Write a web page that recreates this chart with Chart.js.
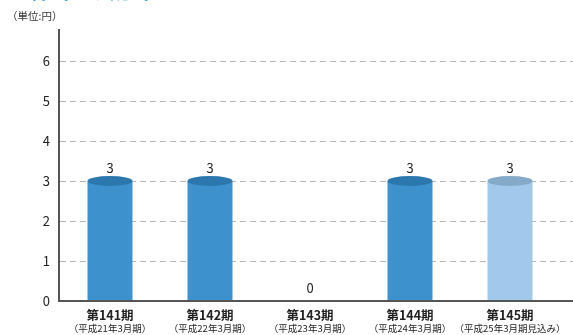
<!DOCTYPE html>
<html>
<head>
<meta charset="utf-8">
<script src="https://cdn.jsdelivr.net/npm/chart.js@4"></script>
<style>
  html, body { margin: 0; padding: 0; background: #fff; }
  #wrap { width: 573px; height: 335px; position: relative; }
</style>
</head>
<body>
<div id="wrap"><canvas id="dividend"></canvas></div>
<script>
const periods = ["第141期", "第142期", "第143期", "第144期", "第145期"]
const periodNotes = ["（平成21年3月期）", "（平成22年3月期）", "（平成23年3月期）", "（平成24年3月期）", "（平成25年3月期見込み）"]
const dividends = [3, 3, 0, 3, 3]
const yTicks = [0, 1, 2, 3, 4, 5, 6]

const FONT = "'Noto Sans CJK JP', 'Noto Sans', sans-serif"
const sideColors = ["#3d92cd", "#3d92cd", "#3d92cd", "#3d92cd", "#a2c9eb"]
const topColors = ["#2c77ae", "#2c77ae", "#2c77ae", "#2c77ae", "#85a9c8"]

const decor = {
    id: "decor",
    beforeDatasetsDraw(chart) {
        const ctx = chart.ctx
        const area = chart.chartArea
        const y = chart.scales.y
        ctx.save()
        ctx.strokeStyle = "#b4b4b4"
        ctx.lineWidth = 1
        ctx.setLineDash([6, 4])
        yTicks.forEach(v => {
            if (v === 0) return
            const py = Math.round(y.getPixelForValue(v)) + 0.5
            ctx.beginPath()
            ctx.moveTo(area.left, py)
            ctx.lineTo(chart.width, py)
            ctx.stroke()
        })
        ctx.restore()
    },
    afterDatasetsDraw(chart) {
        const ctx = chart.ctx
        const area = chart.chartArea
        const meta = chart.getDatasetMeta(0)
        ctx.save()
        meta.data.forEach((bar, i) => {
            if (dividends[i] > 0) {
                ctx.fillStyle = topColors[i]
                ctx.beginPath()
                ctx.ellipse(bar.x, bar.y, bar.width / 2, 5, 0, 0, Math.PI * 2)
                ctx.fill()
            }
            ctx.fillStyle = "#222"
            ctx.font = "13px " + FONT
            ctx.textAlign = "center"
            ctx.textBaseline = "alphabetic"
            ctx.fillText(String(dividends[i]), bar.x, bar.y - 8)

            ctx.font = "600 12.5px " + FONT
            ctx.textBaseline = "middle"
            ctx.fillText(periods[i], bar.x, area.bottom + 14)
            ctx.font = "9.5px " + FONT
            ctx.fillText(periodNotes[i], bar.x, area.bottom + 27)
        })

        // axes
        ctx.strokeStyle = "#555"
        ctx.lineWidth = 2
        ctx.beginPath()
        ctx.moveTo(area.left - 1, area.top)
        ctx.lineTo(area.left - 1, area.bottom)
        ctx.lineTo(chart.width, area.bottom)
        ctx.stroke()

        // unit + clipped title
        ctx.fillStyle = "#333"
        ctx.font = "10.5px " + FONT
        ctx.textAlign = "left"
        ctx.textBaseline = "middle"
        ctx.fillText("（単位:円）", 7, 16)
        ctx.fillStyle = "#1a8ad4"
        ctx.font = "bold 20px " + FONT
        ctx.textBaseline = "alphabetic"
        ctx.fillText("1株当たり配当金", 18, -1)
        ctx.restore()
    }
}

new Chart(document.getElementById("dividend"), {
    type: "bar",
    data: {
        labels: periods,
        datasets: [{
            data: dividends,
            backgroundColor: sideColors,
            borderWidth: 0,
            barPercentage: 0.45,
            categoryPercentage: 1
        }]
    },
    options: {
        responsive: true,
        maintainAspectRatio: false,
        animation: false,
        layout: { padding: { top: 29, right: 13, bottom: 34, left: 0 } },
        plugins: {
            legend: { display: false },
            tooltip: { enabled: false }
        },
        scales: {
            x: { display: false },
            y: {
                min: 0,
                max: 6.8,
                afterFit(scale) { scale.width = 60 },
                afterBuildTicks(scale) { scale.ticks = yTicks.map(v => ({ value: v })) },
                grid: { display: false },
                border: { display: false },
                ticks: {
                    padding: 2,
                    color: "#222",
                    font: { family: FONT, size: 13 }
                }
            }
        }
    },
    plugins: [decor]
})
</script>
</body>
</html>
